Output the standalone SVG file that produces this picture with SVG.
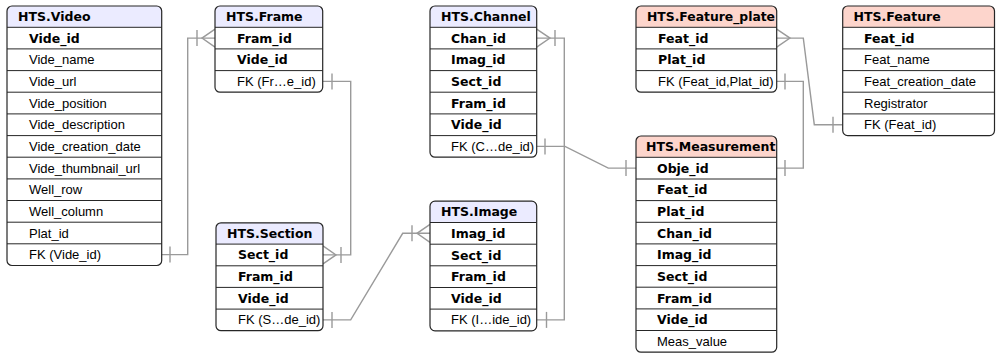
<svg xmlns="http://www.w3.org/2000/svg" width="996" height="354" viewBox="0 0 996 354">
<style>
.bg{fill:#fff}
.hb{fill:#ebebff}
.hr{fill:#fdd5cc}
.bd{fill:none;stroke:#262626;stroke-width:1.2}
.sp{stroke:#262626;stroke-width:1}
.th,.tb{font-family:"DejaVu Sans",Verdana,sans-serif;font-weight:bold;font-size:12.5px;fill:#000}
.tr{font-family:"Liberation Sans",Arial,sans-serif;font-size:13px;fill:#000}
.cn{fill:none;stroke:#9a9a9a;stroke-width:1.4}
</style>
<rect width="996" height="354" fill="#fff"/>
<g id="connectors" class="cn">
  <!-- Video FK -> Frame -->
  <path d="M161.7,254.6 H187.7 V38.1 H215"/>
  <path d="M170,246.6 V262.6"/>
  <path d="M197,30.1 V46.1 M215,29.1 L202,38.1 L215,47.1"/>
  <!-- Frame FK -> Section -->
  <path d="M322.7,81.4 H350.7 V254.9 H323"/>
  <path d="M332,73.4 V89.4"/>
  <path d="M341,246.9 V262.9 M323,245.9 L336,254.9 L323,263.9"/>
  <!-- Section FK -> Image -->
  <path d="M323,319.9 H350.7 L402.7,233.3 H430"/>
  <path d="M332,311.9 V327.9"/>
  <path d="M412,225.3 V241.3 M430,224.3 L417,233.3 L430,242.3"/>
  <!-- Image FK -> Channel -->
  <path d="M536.7,319.9 H564.3 V38.1 H536.7"/>
  <path d="M546.5,311.9 V327.9"/>
  <path d="M555,30.1 V46.1 M536.7,29.1 L550,38.1 L536.7,47.1"/>
  <!-- Channel FK -> Measurement -->
  <path d="M536.7,146.4 H565 L608.3,168.1 H636"/>
  <path d="M545,138.4 V154.4"/>
  <path d="M626,160.1 V176.1"/>
  <!-- Feature_plate FK -> Measurement -->
  <path d="M776.7,81.4 H803.3 V168.1 H776.7"/>
  <path d="M785,73.4 V89.4 M785,160.1 V176.1"/>
  <!-- Feature_plate Feat_id -> Feature FK -->
  <path d="M776.7,38.1 H803.3 L814.3,124.7 H842.7"/>
  <path d="M776.7,29.1 L790,38.1 L776.7,47.1"/>
  <path d="M833,116.7 V132.7"/>
</g>

<g id="video">
  <rect class="bg" x="7" y="6" width="154.7" height="259.5" rx="5"/>
  <path class="hb" d="M7,27.3 V11 A5,5 0 0 1 12,6 H156.7 A5,5 0 0 1 161.7,11 V27.3 Z"/>
  <g class="sp">
    <line x1="7" y1="27.3" x2="161.7" y2="27.3"/><line x1="7" y1="48.9" x2="161.7" y2="48.9"/>
    <line x1="7" y1="70.6" x2="161.7" y2="70.6"/><line x1="7" y1="92.2" x2="161.7" y2="92.2"/>
    <line x1="7" y1="113.9" x2="161.7" y2="113.9"/><line x1="7" y1="135.6" x2="161.7" y2="135.6"/>
    <line x1="7" y1="157.2" x2="161.7" y2="157.2"/><line x1="7" y1="178.9" x2="161.7" y2="178.9"/>
    <line x1="7" y1="200.5" x2="161.7" y2="200.5"/><line x1="7" y1="222.2" x2="161.7" y2="222.2"/>
    <line x1="7" y1="243.8" x2="161.7" y2="243.8"/>
  </g>
  <rect class="bd" x="7" y="6" width="154.7" height="259.5" rx="5"/>
  <text class="th" x="18" y="21">HTS.Video</text>
  <text class="tb" x="29" y="42.6">Vide_id</text>
  <text class="tr" x="29" y="64.3">Vide_name</text>
  <text class="tr" x="29" y="85.9">Vide_url</text>
  <text class="tr" x="29" y="107.6">Vide_position</text>
  <text class="tr" x="29" y="129.2">Vide_description</text>
  <text class="tr" x="29" y="150.9">Vide_creation_date</text>
  <text class="tr" x="29" y="172.5">Vide_thumbnail_url</text>
  <text class="tr" x="29" y="194.2">Well_row</text>
  <text class="tr" x="29" y="215.8">Well_column</text>
  <text class="tr" x="29" y="237.5">Plat_id</text>
  <text class="tr" x="29" y="259.1">FK (Vide_id)</text>
</g>

<g id="frame">
  <rect class="bg" x="215" y="6" width="107.7" height="86.2" rx="5"/>
  <path class="hb" d="M215,27.3 V11 A5,5 0 0 1 220,6 H317.7 A5,5 0 0 1 322.7,11 V27.3 Z"/>
  <g class="sp">
    <line x1="215" y1="27.3" x2="322.7" y2="27.3"/><line x1="215" y1="48.9" x2="322.7" y2="48.9"/>
    <line x1="215" y1="70.6" x2="322.7" y2="70.6"/>
  </g>
  <rect class="bd" x="215" y="6" width="107.7" height="86.2" rx="5"/>
  <text class="th" x="226" y="21">HTS.Frame</text>
  <text class="tb" x="237" y="42.6">Fram_id</text>
  <text class="tb" x="237" y="64.3">Vide_id</text>
  <text class="tr" x="237" y="85.9">FK (Fr…e_id)</text>
</g>

<g id="section">
  <rect class="bg" x="216" y="222.8" width="107" height="107.9" rx="5"/>
  <path class="hb" d="M216,244.1 V227.8 A5,5 0 0 1 221,222.8 H318 A5,5 0 0 1 323,227.8 V244.1 Z"/>
  <g class="sp">
    <line x1="216" y1="244.1" x2="323" y2="244.1"/><line x1="216" y1="265.8" x2="323" y2="265.8"/>
    <line x1="216" y1="287.4" x2="323" y2="287.4"/><line x1="216" y1="309.1" x2="323" y2="309.1"/>
  </g>
  <rect class="bd" x="216" y="222.8" width="107" height="107.9" rx="5"/>
  <text class="th" x="227" y="237.8">HTS.Section</text>
  <text class="tb" x="238" y="259.4">Sect_id</text>
  <text class="tb" x="238" y="281.1">Fram_id</text>
  <text class="tb" x="238" y="302.7">Vide_id</text>
  <text class="tr" x="238" y="324.4">FK (S…de_id)</text>
</g>

<g id="channel">
  <rect class="bg" x="430" y="6" width="106.7" height="151.2" rx="5"/>
  <path class="hb" d="M430,27.3 V11 A5,5 0 0 1 435,6 H531.7 A5,5 0 0 1 536.7,11 V27.3 Z"/>
  <g class="sp">
    <line x1="430" y1="27.3" x2="536.7" y2="27.3"/><line x1="430" y1="48.9" x2="536.7" y2="48.9"/>
    <line x1="430" y1="70.6" x2="536.7" y2="70.6"/><line x1="430" y1="92.2" x2="536.7" y2="92.2"/>
    <line x1="430" y1="113.9" x2="536.7" y2="113.9"/><line x1="430" y1="135.6" x2="536.7" y2="135.6"/>
  </g>
  <rect class="bd" x="430" y="6" width="106.7" height="151.2" rx="5"/>
  <text class="th" x="441" y="21">HTS.Channel</text>
  <text class="tb" x="451" y="42.6">Chan_id</text>
  <text class="tb" x="451" y="64.3">Imag_id</text>
  <text class="tb" x="451" y="85.9">Sect_id</text>
  <text class="tb" x="451" y="107.6">Fram_id</text>
  <text class="tb" x="451" y="129.2">Vide_id</text>
  <text class="tr" x="451" y="150.9">FK (C…de_id)</text>
</g>

<g id="image">
  <rect class="bg" x="430" y="201.2" width="106.7" height="129.6" rx="5"/>
  <path class="hb" d="M430,222.5 V206.2 A5,5 0 0 1 435,201.2 H531.7 A5,5 0 0 1 536.7,206.2 V222.5 Z"/>
  <g class="sp">
    <line x1="430" y1="222.5" x2="536.7" y2="222.5"/><line x1="430" y1="244.2" x2="536.7" y2="244.2"/>
    <line x1="430" y1="265.8" x2="536.7" y2="265.8"/><line x1="430" y1="287.5" x2="536.7" y2="287.5"/>
    <line x1="430" y1="309.1" x2="536.7" y2="309.1"/>
  </g>
  <rect class="bd" x="430" y="201.2" width="106.7" height="129.6" rx="5"/>
  <text class="th" x="441" y="216.2">HTS.Image</text>
  <text class="tb" x="451" y="237.8">Imag_id</text>
  <text class="tb" x="451" y="259.5">Sect_id</text>
  <text class="tb" x="451" y="281.1">Fram_id</text>
  <text class="tb" x="451" y="302.8">Vide_id</text>
  <text class="tr" x="451" y="324.4">FK (I…ide_id)</text>
</g>

<g id="feature_plate">
  <rect class="bg" x="636" y="6" width="140.7" height="86.2" rx="5"/>
  <path class="hr" d="M636,27.3 V11 A5,5 0 0 1 641,6 H771.7 A5,5 0 0 1 776.7,11 V27.3 Z"/>
  <g class="sp">
    <line x1="636" y1="27.3" x2="776.7" y2="27.3"/><line x1="636" y1="48.9" x2="776.7" y2="48.9"/>
    <line x1="636" y1="70.6" x2="776.7" y2="70.6"/>
  </g>
  <rect class="bd" x="636" y="6" width="140.7" height="86.2" rx="5"/>
  <text class="th" x="647" y="21" textLength="128" lengthAdjust="spacingAndGlyphs">HTS.Feature_plate</text>
  <text class="tb" x="658" y="42.6">Feat_id</text>
  <text class="tb" x="658" y="64.3">Plat_id</text>
  <text class="tr" x="658" y="85.9">FK (Feat_id,Plat_id)</text>
</g>

<g id="feature">
  <rect class="bg" x="842.7" y="6" width="151.8" height="129.6" rx="5"/>
  <path class="hr" d="M842.7,27.3 V11 A5,5 0 0 1 847.7,6 H989.5 A5,5 0 0 1 994.5,11 V27.3 Z"/>
  <g class="sp">
    <line x1="842.7" y1="27.3" x2="994.5" y2="27.3"/><line x1="842.7" y1="48.9" x2="994.5" y2="48.9"/>
    <line x1="842.7" y1="70.6" x2="994.5" y2="70.6"/><line x1="842.7" y1="92.2" x2="994.5" y2="92.2"/>
    <line x1="842.7" y1="113.9" x2="994.5" y2="113.9"/>
  </g>
  <rect class="bd" x="842.7" y="6" width="151.8" height="129.6" rx="5"/>
  <text class="th" x="853.5" y="21">HTS.Feature</text>
  <text class="tb" x="864" y="42.6">Feat_id</text>
  <text class="tr" x="864" y="64.3">Feat_name</text>
  <text class="tr" x="864" y="85.9">Feat_creation_date</text>
  <text class="tr" x="864" y="107.6">Registrator</text>
  <text class="tr" x="864" y="129.2">FK (Feat_id)</text>
</g>

<g id="measurement">
  <rect class="bg" x="636" y="136" width="140.7" height="216.2" rx="5"/>
  <path class="hr" d="M636,157.3 V141 A5,5 0 0 1 641,136 H771.7 A5,5 0 0 1 776.7,141 V157.3 Z"/>
  <g class="sp">
    <line x1="636" y1="157.3" x2="776.7" y2="157.3"/><line x1="636" y1="179" x2="776.7" y2="179"/>
    <line x1="636" y1="200.6" x2="776.7" y2="200.6"/><line x1="636" y1="222.3" x2="776.7" y2="222.3"/>
    <line x1="636" y1="243.9" x2="776.7" y2="243.9"/><line x1="636" y1="265.6" x2="776.7" y2="265.6"/>
    <line x1="636" y1="287.2" x2="776.7" y2="287.2"/><line x1="636" y1="308.9" x2="776.7" y2="308.9"/>
    <line x1="636" y1="330.5" x2="776.7" y2="330.5"/>
  </g>
  <rect class="bd" x="636" y="136" width="140.7" height="216.2" rx="5"/>
  <text class="th" x="646" y="151">HTS.Measurement</text>
  <text class="tb" x="657" y="172.6">Obje_id</text>
  <text class="tb" x="657" y="194.3">Feat_id</text>
  <text class="tb" x="657" y="215.9">Plat_id</text>
  <text class="tb" x="657" y="237.6">Chan_id</text>
  <text class="tb" x="657" y="259.2">Imag_id</text>
  <text class="tb" x="657" y="280.9">Sect_id</text>
  <text class="tb" x="657" y="302.5">Fram_id</text>
  <text class="tb" x="657" y="324.2">Vide_id</text>
  <text class="tr" x="657" y="345.8">Meas_value</text>
</g>
</svg>
